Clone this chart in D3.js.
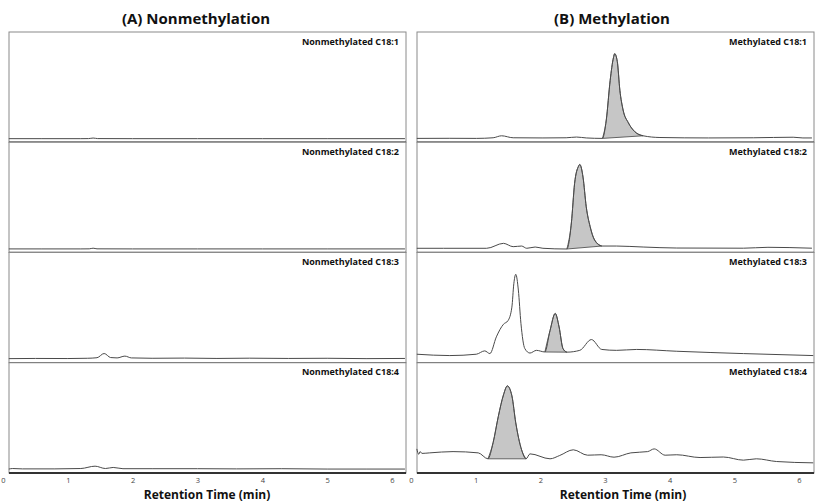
<!DOCTYPE html>
<html>
<head>
<meta charset="utf-8">
<script src="https://cdn.jsdelivr.net/npm/d3@7/dist/d3.min.js"></script>
<style>
  html, body { margin: 0; padding: 0; background: #fff; }
  svg { display: block; }
  text { font-family: "Open Sans", "Liberation Sans", sans-serif; }
</style>
</head>
<body>
<svg id="chart" width="817" height="504"></svg>
<script>
// ---------------- DATA ----------------
const groupTitles = ["(A) Nonmethylation", "(B) Methylation"];
const axisTitle = "Retention Time (min)";
const tickValues = [0, 1, 2, 3, 4, 5, 6];
const tickLabels = ["0", "1", "2", "3", "4", "5", "6"];

const nonmethylNames = ["Nonmethylated C18:1", "Nonmethylated C18:2", "Nonmethylated C18:3", "Nonmethylated C18:4"];
const methylNames = ["Methylated C18:1", "Methylated C18:2", "Methylated C18:3", "Methylated C18:4"];

// traces: [retention time (min), relative intensity (0-100)]
const nonC181 = [[0.09,1.2],[0.6,1.2],[1.2,1.2],[1.32,1.3],[1.39,1.9],[1.46,1.3],[2.0,1.2],[3.0,1.2],[4.0,1.2],[5.0,1.2],[6.2,1.2]];
const nonC182 = [[0.09,1.2],[0.6,1.2],[1.2,1.2],[1.33,1.3],[1.39,2.0],[1.45,1.3],[2.0,1.2],[3.0,1.2],[4.0,1.2],[5.0,1.2],[6.2,1.2]];
const nonC183 = [[0.09,1.8],[0.5,2.0],[1.0,1.9],[1.3,2.2],[1.45,2.8],[1.56,7.5],[1.66,3.0],[1.76,2.6],[1.88,4.6],[1.98,2.6],[2.3,2.2],[2.8,2.4],[3.3,2.0],[3.8,2.3],[4.4,2.0],[5.0,2.2],[5.6,1.8],[6.2,2.0]];
const nonC184 = [[0.09,1.6],[0.15,2.2],[0.3,1.8],[0.8,1.8],[1.2,2.2],[1.42,4.8],[1.58,2.2],[1.70,3.4],[1.85,2.0],[2.3,2.0],[3.0,2.0],[3.6,1.8],[4.3,2.0],[5.0,1.6],[5.6,1.6],[6.2,1.6]];

const metC181 = [[0.09,1.5],[0.6,1.6],[1.01,1.5],[1.27,2.2],[1.40,4.4],[1.58,2.2],[2.04,2.0],[2.40,2.2],[2.56,3.0],[2.71,2.0],[2.96,1.5],[3.02,22],[3.08,66],[3.13,91],[3.15,95.6],[3.19,87],[3.23,55],[3.28,33],[3.36,19],[3.46,9],[3.59,4.4],[3.85,2.5],[4.6,2.0],[5.3,2.2],[5.91,2.8],[6.06,2.0],[6.2,2.0]];
const metC182 = [[0.09,1.9],[0.5,1.9],[1.17,1.9],[1.43,7.4],[1.58,3.7],[1.71,4.4],[1.79,1.9],[1.92,3.3],[2.04,1.9],[2.41,1.1],[2.48,30],[2.53,74],[2.59,93],[2.61,95],[2.66,81],[2.71,48],[2.77,26],[2.84,11],[2.95,4.4],[3.18,4.4],[3.59,3.3],[4.11,2.2],[5.14,2.0],[5.52,3.0],[6.2,2.0]];
const metC183 = [[0.09,6.7],[0.60,5.2],[1.01,6.7],[1.14,10.4],[1.22,7.4],[1.32,26],[1.43,40],[1.50,44],[1.56,59],[1.59,85],[1.62,95.5],[1.66,78],[1.70,41],[1.76,13],[1.84,8],[1.94,11],[2.07,9.2],[2.15,33],[2.23,52],[2.29,37],[2.35,13],[2.41,9],[2.61,11],[2.79,23],[2.95,12],[3.18,11],[3.49,12],[4.11,10],[5.14,7.4],[6.22,5.2]];
const metC184 = [[0.09,24],[0.12,18],[0.14,21],[0.17,19],[0.29,19.6],[0.65,21],[1.04,19.6],[1.19,13],[1.27,31],[1.35,60],[1.43,84],[1.49,94],[1.56,83],[1.62,53],[1.71,23],[1.78,13],[1.84,18.5],[2.15,13],[2.30,16.7],[2.51,23],[2.73,17],[2.94,17.5],[3.14,14.8],[3.40,19.6],[3.66,21],[3.76,24],[3.93,17],[4.11,17.5],[4.47,14.4],[4.83,15],[5.14,11.5],[5.34,13],[5.65,10],[6.22,8.5]];

const nonmethylTraces = [nonC181, nonC182, nonC183, nonC184];
const methylTraces = [metC181, metC182, metC183, metC184];
// shaded (integrated) peak windows [start, end] in minutes
const methylShade = [[2.96, 3.59], [2.41, 2.95], [2.07, 2.41], [1.19, 1.78]];

// ---------------- LAYOUT ----------------
const svg = d3.select("#chart");
const plotTop = 32, plotBottom = 473;
const bandH = (plotBottom - plotTop) / 4;

const groups = [
  { title: groupTitles[0], x0: 9, x1: 406, cx: 196, names: nonmethylNames, traces: nonmethylTraces, shade: null,
    x: d3.scaleLinear().domain([0, 6]).range([3, 392]) },
  { title: groupTitles[1], x0: 417, x1: 814, cx: 612, names: methylNames, traces: methylTraces, shade: methylShade,
    x: d3.scaleLinear().domain([0, 6]).range([411, 799]) }
];

groups.forEach(g => {
  svg.append("text")
    .attr("x", g.cx).attr("y", 24)
    .attr("text-anchor", "middle")
    .attr("font-size", 15).attr("font-weight", 700)
    .attr("fill", "#111")
    .text(g.title);

  g.names.forEach((name, i) => {
    const pTop = plotTop + i * bandH;
    const pBot = pTop + bandH;
    const y = d3.scaleLinear().domain([0, 100]).range([pBot - 2.5, pBot - 92.5]);

    svg.append("rect")
      .attr("x", g.x0).attr("y", pTop)
      .attr("width", g.x1 - g.x0).attr("height", bandH)
      .attr("fill", "#fff").attr("stroke", "#8a8a8a").attr("stroke-width", 1);

    const line = d3.line().x(d => g.x(d[0])).y(d => y(d[1])).curve(d3.curveMonotoneX);
    const data = g.traces[i];

    if (g.shade) {
      const [a, b] = g.shade[i];
      const sub = data.filter(d => d[0] >= a && d[0] <= b);
      svg.append("path")
        .attr("d", line(sub) + "Z")
        .attr("fill", "#c6c6c6")
        .attr("stroke", "#555").attr("stroke-width", 0.9);
    }

    svg.append("path")
      .attr("d", line(data))
      .attr("fill", "none")
      .attr("stroke", "#4a4a4a").attr("stroke-width", 1);

    svg.append("line")
      .attr("x1", g.x0).attr("x2", g.x1)
      .attr("y1", pBot).attr("y2", pBot)
      .attr("stroke", "#333").attr("stroke-width", i === 3 ? 2 : 1.5);

    svg.append("text")
      .attr("x", g.x1 - 7).attr("y", pTop + 12.5)
      .attr("text-anchor", "end")
      .attr("font-size", 9).attr("font-weight", 700)
      .attr("fill", "#111")
      .text(name);
  });

  const axis = d3.axisBottom(g.x)
    .tickValues(tickValues)
    .tickFormat((d, k) => tickLabels[k])
    .tickSize(0).tickPadding(4.5);
  const ax = svg.append("g").attr("transform", `translate(0,${plotBottom})`).call(axis);
  ax.select(".domain").remove();
  ax.selectAll("text").attr("font-size", 7.5).attr("fill", "#444")
    .attr("font-family", "\"Open Sans\", sans-serif");

  svg.append("text")
    .attr("x", g.cx + 11).attr("y", 499)
    .attr("text-anchor", "middle")
    .attr("font-size", 12).attr("font-weight", 700)
    .attr("fill", "#111")
    .text(axisTitle);
});
</script>
</body>
</html>
